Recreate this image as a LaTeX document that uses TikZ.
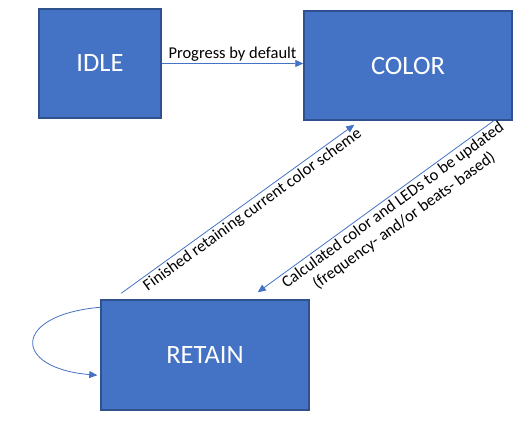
\documentclass[tikz,border=0pt]{standalone}
\usepackage{fontspec}
\setmainfont{Carlito}
\usetikzlibrary{arrows.meta}
\definecolor{statefill}{RGB}{68,114,196}
\definecolor{stateedge}{RGB}{47,82,143}
\tikzset{
  statebox/.style={draw=stateedge,fill=statefill,line width=1.5pt,text=white,font=\fontsize{26.5}{30}\selectfont,inner sep=0pt},
  trans/.style={draw=statefill,line width=0.8pt,-{Triangle[length=8pt,width=7pt]}},
  translabel/.style={font=\fontsize{16.5}{19}\selectfont,text=black}
}
\begin{document}
\begin{tikzpicture}[x=1pt,y=-1pt]
\useasboundingbox (0,0) rectangle (524,422);
\node[statebox,minimum width=122,minimum height=109] (idle) at (100,63.5) {IDLE};
\node[statebox,minimum width=208,minimum height=109] (color) at (408,65.5) {COLOR};
\node[statebox,minimum width=208,minimum height=110] (retain) at (205,355) {RETAIN};
\coordinate (finstart) at ([xshift=21pt,yshift=6pt]retain.north west);
\coordinate (finend) at ([xshift=51pt,yshift=-4pt]color.south west);
\coordinate (calcstart) at ([xshift=-19pt]color.south east);
\coordinate (calcend) at ([xshift=-52pt,yshift=7pt]retain.north east);
\coordinate (loopstart) at ([yshift=-8pt]retain.north west);
\coordinate (loopend) at ([xshift=-3pt,yshift=-76pt]retain.north west);
\draw[trans] (idle.east) -- (idle.east -| color.west) node[midway,above,translabel,inner sep=2pt] {Progress by default};
\draw[trans] (finstart) -- (finend) node[pos=0.54,sloped,below,translabel,inner sep=2pt] {Finished retaining current color scheme};
\draw[trans] (calcstart) -- (calcend) node[pos=0.45,sloped,below,translabel,align=center,inner sep=2pt] {Calculated color and LEDs to be updated\\(frequency- and/or beats- based)};
\draw[trans] (loopstart) .. controls (12,315) and (12,368) .. (loopend);
\end{tikzpicture}
\end{document}
